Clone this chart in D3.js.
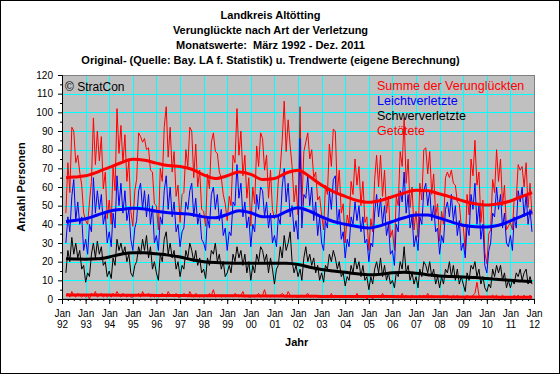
<!DOCTYPE html>
<html>
<head>
<meta charset="utf-8">
<script src="https://cdn.jsdelivr.net/npm/d3@7"></script>
<style>
  body { margin: 0; background: #fff; }
  svg { display: block; font-family: Arial, "Liberation Sans", sans-serif; }
</style>
</head>
<body>
<svg id="chart" width="560" height="374"></svg>
<script>
// Titel
const titleLines = [
    "Landkreis Altötting",
    "Verunglückte nach Art der Verletzung",
    "Monatswerte:  März 1992 - Dez. 2011",
    "Original- (Quelle: Bay. LA f. Statistik) u. Trendwerte (eigene Berechnung)"
];
const seriesNames = ["Summe der Verunglückten", "Leichtverletzte", "Schwerverletzte", "Getötete"];
const seriesColors = ["#ff0000", "#0000ff", "#000000", "#ff0000"];
const yTicks = [0, 10, 20, 30, 40, 50, 60, 70, 80, 90, 100, 110, 120];
const yearTicks = d3.range(1992, 2013);

// Monatswerte ab März 1992
const leicht = [
    30, 44, 36, 55, 64, 42, 52, 40, 44, 26,
    32, 24, 40, 36, 65, 46, 58, 48, 56, 40, 46, 30,
    36, 28, 46, 38, 66, 50, 62, 46, 58, 42, 48, 32,
    26, 38, 42, 58, 62, 48, 58, 44, 56, 40, 50, 30,
    34, 26, 44, 40, 58, 66, 48, 60, 44, 52, 36, 40,
    28, 36, 38, 52, 48, 58, 62, 44, 54, 40, 46, 32,
    30, 26, 44, 38, 56, 60, 48, 56, 42, 48, 34, 38,
    26, 36, 34, 52, 50, 72, 54, 62, 44, 52, 38, 44,
    28, 40, 36, 56, 48, 60, 58, 44, 52, 38, 46, 30,
    34, 28, 44, 40, 60, 70, 52, 62, 44, 50, 36, 42,
    32, 86, 38, 56, 54, 66, 50, 60, 42, 52, 34, 44,
    30, 26, 42, 38, 58, 48, 64, 66, 40, 48, 32, 36,
    22, 32, 28, 44, 40, 52, 42, 50, 36, 44, 30, 32,
    20, 30, 28, 46, 56, 44, 54, 40, 50, 34, 40, 24,
    26, 18, 40, 36, 58, 52, 68, 46, 56, 38, 44, 28,
    34, 26, 44, 40, 58, 62, 50, 58, 42, 50, 36, 38,
    24, 34, 30, 48, 52, 44, 56, 42, 50, 34, 42, 26,
    30, 22, 40, 34, 56, 48, 62, 40, 50, 32, 40, 18,
    14, 26, 30, 46, 44, 60, 48, 56, 38, 46, 30, 28,
    34, 26, 44, 38, 58, 52, 60, 44, 56, 40, 48, 36
];
const schwer = [
    14, 26, 20, 33, 24, 30, 22, 26, 16, 18,
    9, 14, 12, 24, 30, 22, 31, 24, 28, 18, 20, 12,
    15, 11, 22, 18, 32, 26, 30, 24, 28, 20, 24, 14,
    12, 18, 20, 28, 24, 32, 26, 34, 22, 28, 16, 20,
    14, 10, 24, 20, 32, 36, 24, 30, 22, 26, 16, 20,
    12, 18, 16, 26, 22, 30, 26, 20, 26, 18, 22, 14,
    16, 11, 22, 18, 26, 24, 30, 20, 24, 16, 20, 12,
    14, 18, 14, 24, 20, 28, 22, 26, 18, 24, 14, 20,
    10, 18, 14, 24, 20, 28, 26, 20, 24, 14, 22, 16,
    8, 16, 18, 28, 22, 34, 26, 30, 36, 20, 14, 18,
    12, 16, 10, 22, 28, 20, 24, 18, 22, 14, 18, 10,
    14, 9, 18, 16, 24, 20, 26, 22, 16, 20, 12, 14,
    7, 12, 10, 18, 14, 22, 16, 20, 12, 18, 10, 12,
    5, 12, 8, 16, 20, 14, 22, 12, 18, 10, 14, 8,
    10, 6, 14, 12, 20, 16, 28, 14, 18, 10, 14, 8,
    12, 6, 16, 12, 20, 18, 14, 20, 12, 16, 8, 12,
    6, 12, 8, 16, 14, 20, 12, 18, 10, 16, 8, 12,
    8, 4, 14, 10, 18, 16, 20, 12, 16, 8, 12, 6,
    4, 8, 6, 16, 12, 18, 14, 18, 10, 14, 6, 10,
    6, 10, 8, 14, 12, 16, 10, 14, 16, 8, 12, 8
];
const getoetet = [
    2, 3, 1, 4, 2, 1, 3, 2, 1, 2,
    1, 2, 0, 3, 2, 4, 1, 2, 3, 1, 2, 1,
    2, 1, 3, 2, 4, 2, 1, 3, 2, 1, 2, 1,
    1, 2, 2, 3, 1, 4, 2, 2, 3, 1, 2, 1,
    2, 1, 2, 3, 2, 1, 4, 2, 2, 1, 3, 1,
    1, 2, 3, 2, 1, 4, 2, 1, 3, 2, 1, 2,
    1, 2, 1, 3, 2, 5, 1, 2, 2, 1, 2, 1,
    2, 1, 2, 1, 3, 2, 1, 2, 4, 1, 2, 1,
    1, 2, 1, 2, 3, 1, 2, 5, 1, 2, 1, 2,
    1, 2, 1, 2, 3, 2, 1, 4, 2, 1, 2, 1,
    1, 1, 2, 1, 2, 3, 1, 2, 1, 2, 1, 1,
    1, 2, 1, 2, 1, 3, 1, 2, 1, 1, 2, 1,
    1, 1, 2, 1, 2, 1, 3, 1, 2, 1, 1, 0,
    1, 1, 0, 2, 1, 2, 1, 3, 1, 2, 1, 1,
    1, 2, 1, 2, 1, 3, 1, 2, 1, 1, 2, 1,
    1, 1, 2, 1, 2, 1, 3, 1, 2, 1, 1, 1,
    1, 1, 2, 1, 2, 1, 1, 2, 1, 2, 1, 1,
    1, 0, 2, 1, 1, 2, 3, 9, 2, 1, 1, 1,
    1, 1, 1, 2, 1, 2, 1, 1, 2, 1, 1, 1,
    1, 1, 2, 1, 2, 1, 1, 2, 1, 1, 2, 1
];
// Summe = Leicht + Schwer + Getötete
const summe = leicht.map((v, i) => v + schwer[i] + getoetet[i]);

// Trendwerte (Stützstellen, Jahr als Dezimalzahl)
const trendYears = [1992.17, 1992.5, 1993, 1993.5, 1994, 1994.5, 1995, 1995.5, 1996, 1996.5,
    1997, 1997.5, 1998, 1998.5, 1999, 1999.5, 2000, 2000.5, 2001, 2001.5,
    2002, 2002.5, 2003, 2003.5, 2004, 2004.5, 2005, 2005.5, 2006, 2006.5,
    2007, 2007.5, 2008, 2008.5, 2009, 2009.5, 2010, 2010.5, 2011, 2011.5, 2011.92];
const trendSumme = [65, 65.3, 66, 68, 70.5, 73, 74.8, 74.3, 72.8, 71.5,
    71, 69.5, 66.5, 64.5, 66, 68, 66.8, 64, 64.5, 67.5,
    69, 65.5, 61, 57.5, 55, 52.8, 51.8, 52.8, 54.8, 56.8,
    58.2, 58, 56.3, 54.5, 52.5, 51, 50.3, 51, 52.5, 55, 57];
const trendLeicht = [41.5, 42, 43, 45, 47, 48, 48.6, 48.2, 47, 46.2,
    45.8, 45.3, 44, 43.5, 45.3, 47.3, 46.2, 44, 44.2, 46.8,
    48.9, 47, 44, 41.5, 40, 38.8, 38, 39.3, 41.5, 43.5,
    45, 45, 43.3, 41.3, 39.5, 38.7, 38.6, 39.5, 41.8, 44.5, 46.8];
const trendSchwer = [21.5, 21.4, 21.3, 21.5, 22.5, 24, 24.8, 24.8, 24.2, 23.5,
    22.5, 21, 20, 19.5, 19.3, 19.2, 19.2, 19.2, 19.2, 19.1,
    18.5, 17, 15.8, 15, 14.3, 13.5, 13, 13.3, 14, 14.3,
    13.8, 13, 12.3, 12, 11.8, 11.5, 11, 10.5, 10, 9.6, 9.3];
const trendGetoetet = [2.2, 2.2, 2.1, 2.1, 2.1, 2.0, 2.0, 2.0, 1.9, 1.9,
    1.9, 1.8, 1.8, 1.7, 1.7, 1.7, 1.6, 1.6, 1.6, 1.5,
    1.5, 1.5, 1.4, 1.4, 1.4, 1.3, 1.3, 1.3, 1.3, 1.2,
    1.2, 1.2, 1.2, 1.1, 1.1, 1.1, 1.1, 1.0, 1.0, 1.0, 1.0];

const svg = d3.select("#chart");
const margin = { top: 75, right: 26, bottom: 75, left: 62 };
const width = 560 - margin.left - margin.right,
      height = 374 - margin.top - margin.bottom;

// Rahmen
svg.append("rect")
    .attr("x", 0.5).attr("y", 0.5)
    .attr("width", 559).attr("height", 373)
    .attr("fill", "#fff").attr("stroke", "#000");

svg.selectAll(".title")
    .data(titleLines)
    .enter().append("text")
    .attr("class", "title")
    .attr("x", 270.5)
    .attr("y", (d, i) => 19 + i * 15.1)
    .attr("text-anchor", "middle")
    .style("font-size", "11px")
    .style("font-weight", "bold")
    .style("white-space", "pre")
    .text(d => d);

const g = svg.append("g")
    .attr("transform", `translate(${margin.left},${margin.top})`);

const firstMonth = new Date(1992, 2, 1);
const months = leicht.map((v, i) => d3.timeMonth.offset(firstMonth, i));
const yearToDate = k => {
    const yr = Math.floor(k);
    const a = new Date(yr, 0, 1), b = new Date(yr + 1, 0, 1);
    return new Date(+a + (k - yr) * (b - a));
};

const x = d3.scaleTime()
    .domain([new Date(1992, 0, 1), new Date(2012, 0, 1)])
    .range([0, width]);
const y = d3.scaleLinear()
    .domain([0, 120])
    .range([height, 0]);

g.append("rect")
    .attr("width", width).attr("height", height)
    .attr("fill", "#c0c0c0");

// Gitternetz
g.append("g")
    .selectAll("line")
    .data(yTicks.slice(1))
    .enter().append("line")
    .attr("x1", 0).attr("x2", width)
    .attr("y1", d => Math.round(y(d)) + 0.5).attr("y2", d => Math.round(y(d)) + 0.5)
    .attr("stroke", "#00ffff");
g.append("g")
    .selectAll("line")
    .data(yearTicks.slice(1))
    .enter().append("line")
    .attr("x1", d => Math.round(x(new Date(d, 0, 1))) + 0.5)
    .attr("x2", d => Math.round(x(new Date(d, 0, 1))) + 0.5)
    .attr("y1", 0).attr("y2", height)
    .attr("stroke", "#00ffff");

g.append("rect")
    .attr("x", 0.5).attr("y", 0.5)
    .attr("width", width).attr("height", height - 0.5)
    .attr("fill", "none").attr("stroke", "#808080");

// Monatslinien
const line = d3.line()
    .x((d, i) => x(months[i]))
    .y(d => y(d));
const monthly = [summe, leicht, schwer, getoetet];
monthly.forEach((s, k) => {
    g.append("path")
        .datum(s)
        .attr("fill", "none")
        .attr("stroke", seriesColors[k])
        .attr("stroke-width", 1)
        .attr("d", line);
});

// Trendlinien
const trendLine = d3.line()
    .x((d, i) => x(yearToDate(trendYears[i])))
    .y(d => y(d))
    .curve(d3.curveMonotoneX);
[trendSumme, trendLeicht, trendSchwer, trendGetoetet].forEach((s, k) => {
    g.append("path")
        .datum(s)
        .attr("fill", "none")
        .attr("stroke", seriesColors[k])
        .attr("stroke-width", 3)
        .attr("d", trendLine);
});

// Achsen
const yAxis = g.append("g")
    .call(d3.axisLeft(y).tickValues(yTicks).tickSize(4).tickPadding(5));
g.append("g")
    .call(d3.axisLeft(y).tickValues(d3.range(5, 120, 10)).tickSize(2).tickFormat(""))
    .select(".domain").remove();
yAxis.selectAll("text").style("font-size", "10px").attr("fill", "#000");

const xAxis = g.append("g")
    .attr("transform", `translate(0,${height})`)
    .call(d3.axisBottom(x)
        .tickValues(yearTicks.map(d => new Date(d, 0, 1)))
        .tickSize(5)
        .tickFormat(""));
g.append("g")
    .attr("transform", `translate(0,${height})`)
    .call(d3.axisBottom(x)
        .tickValues(d3.timeMonth.every(3).range(new Date(1992, 0, 1), new Date(2012, 0, 1)))
        .tickSize(2)
        .tickFormat(""))
    .select(".domain").remove();
xAxis.selectAll(".tick").each(function (d) {
    const t = d3.select(this).append("text")
        .attr("fill", "#000")
        .attr("text-anchor", "middle")
        .style("font-size", "10px");
    t.append("tspan").attr("x", 0).attr("y", 17.5).text("Jan");
    t.append("tspan").attr("x", 0).attr("y", 28.5).text(d3.timeFormat("%y")(d));
});

svg.append("text")
    .attr("x", 296.7).attr("y", 346)
    .attr("text-anchor", "middle")
    .style("font-size", "11px").style("font-weight", "bold")
    .text("Jahr");
svg.append("text")
    .attr("transform", "translate(25,187) rotate(-90)")
    .attr("text-anchor", "middle")
    .style("font-size", "11px").style("font-weight", "bold")
    .text("Anzahl Personen");

// Legende
svg.selectAll(".legend")
    .data(seriesNames)
    .enter().append("text")
    .attr("class", "legend")
    .attr("x", 377)
    .attr("y", (d, i) => 90 + i * 14.9)
    .attr("fill", (d, i) => seriesColors[i])
    .style("font-size", "12.5px")
    .text(d => d);

svg.append("text")
    .attr("x", 65).attr("y", 90.5)
    .style("font-size", "12px")
    .text("© StratCon");
</script>
</body>
</html>
